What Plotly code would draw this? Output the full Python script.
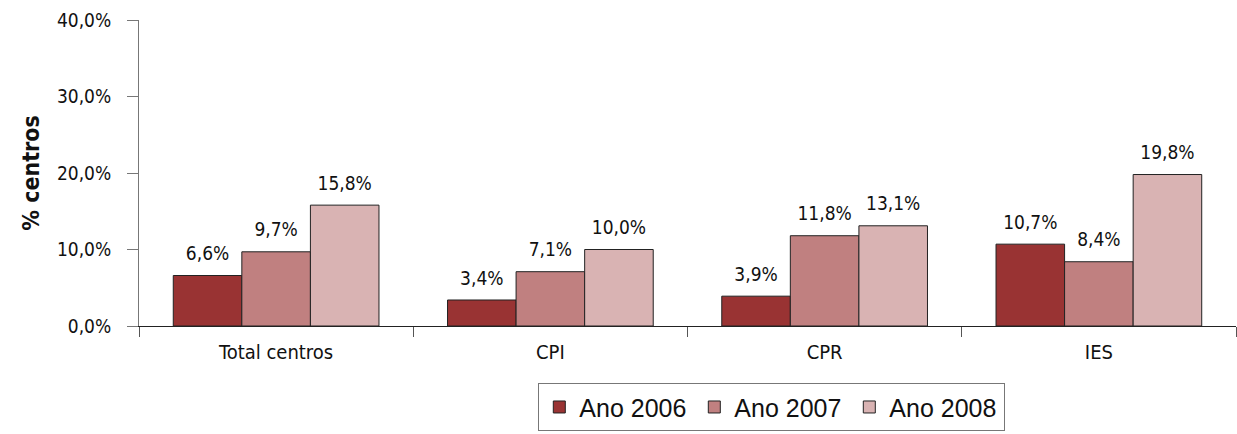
import plotly.graph_objects as go

categories = ["Total centros", "CPI", "CPR", "IES"]
series_names = ["Ano 2006", "Ano 2007", "Ano 2008"]
v2006 = [6.6, 3.4, 3.9, 10.7]
v2007 = [9.7, 7.1, 11.8, 8.4]
v2008 = [15.8, 10.0, 13.1, 19.8]
colors = ["#993333", "#c08080", "#d9b3b3"]
ytick_vals = [0, 10, 20, 30, 40]
ytick_text = ["0,0%", "10,0%", "20,0%", "30,0%", "40,0%"]

FONT = "DejaVu Sans Condensed, DejaVu Sans"

fig = go.Figure()
for name, vals, col in zip(series_names, [v2006, v2007, v2008], colors):
    fig.add_trace(go.Bar(
        x=categories, y=vals, name=name,
        marker=dict(color=col, line=dict(color="#222222", width=1)),
        text=[f"{v:.1f}%".replace(".", ",") for v in vals],
        texttemplate="<span style='font-size:19px'>%{text}</span><br><span style='color:rgba(0,0,0,0)'>.</span>",
        textposition="outside", cliponaxis=False,
        textfont=dict(family=FONT, size=8, color="#111111"),
    ))

fig.update_layout(
    width=1237, height=434,
    margin=dict(l=139, r=1, t=20, b=108),
    paper_bgcolor="white", plot_bgcolor="white",
    barmode="group", bargap=0.25, bargroupgap=0,
    font=dict(family=FONT, size=18, color="#111111"),
    showlegend=True,
    legend=dict(orientation="h", x=0.364, xanchor="left", y=-0.187, yanchor="top",
                bordercolor="#777777", borderwidth=1,
                font=dict(family="Liberation Sans", size=25, color="#111111"),
                itemwidth=30, entrywidth=110),
    xaxis=dict(showline=True, linecolor="#222222", linewidth=1,
               ticks="outside", tickson="boundaries", ticklen=10, tickcolor="#555555",
               ticklabelstandoff=8,
               tickfont=dict(family=FONT, size=20)),
    yaxis=dict(range=[0, 40], tickvals=ytick_vals, ticktext=ytick_text,
               showline=True, linecolor="#777777", linewidth=1,
               ticks="outside", ticklen=11, tickcolor="#777777",
               ticklabelstandoff=12,
               showgrid=False, zeroline=False,
               tickfont=dict(family=FONT, size=19),
               title=dict(text="<b>% centros</b>", standoff=10,
                          font=dict(family=FONT, size=23))),
)

fig.write_html("out.html", config={"displayModeBar": False},
               post_script="document.body.style.margin='0';")
